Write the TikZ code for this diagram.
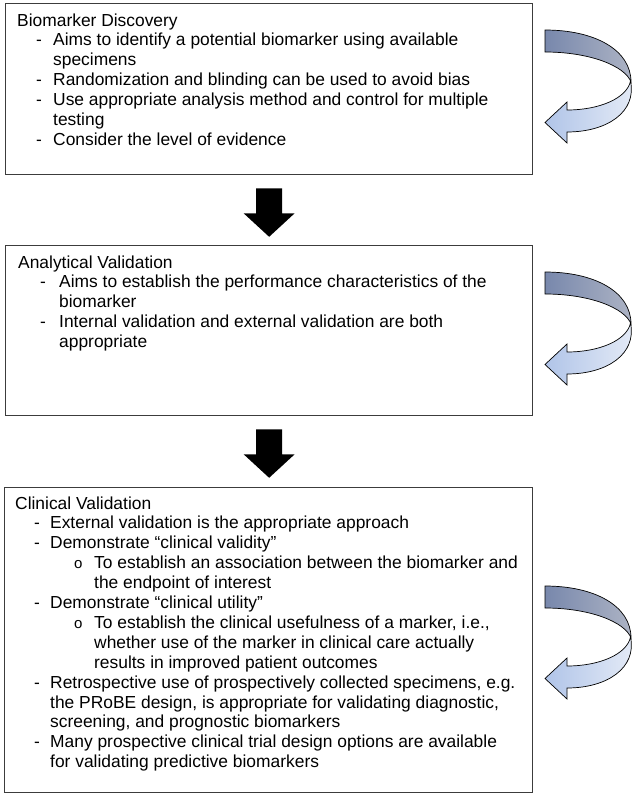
\documentclass[tikz,border=0pt]{standalone}
\usepackage{fontspec}
\setmainfont{Liberation Sans}
\definecolor{backL}{RGB}{120,136,172}
\definecolor{backR}{RGB}{172,179,196}
\definecolor{frontL}{RGB}{176,196,232}
\definecolor{frontR}{RGB}{230,236,247}
\definecolor{boxline}{RGB}{60,60,60}
\newcommand{\bdash}[2]{\hspace*{#1pt}\makebox[#2pt][l]{-}}
\newcommand{\bcirc}[2]{\hspace*{#1pt}\makebox[#2pt][l]{\fontsize{15}{15}\selectfont o}}
\tikzset{
  box/.style={draw=boxline, line width=1.3pt, anchor=north west, inner sep=0pt},
  txt/.style={anchor=base west, inner sep=0pt, font=\fontsize{17.4}{19.9}\selectfont},
  blockarrow/.pic={
    \fill[black] (-13,13) -- (13,13) -- (13,38) -- (25.5,38) -- (0,61.5)
      -- (-25.5,38) -- (-13,38) -- cycle;
  },
  curvarrow/.pic={
    \shade[left color=backL, right color=backR, draw=black, line width=0.7pt]
      (0,0) .. controls (50,0) and (86,20) .. (86,52)
      .. controls (80,36) and (45,22) .. (0,22) -- cycle;
    \shade[left color=frontL, right color=frontR, draw=black, line width=0.7pt]
      (22,80) .. controls (55,80) and (82,68) .. (85.5,51)
      .. controls (92,82) and (62,102) .. (22,102)
      -- (22,113) -- (0,92.5) -- (22,72) -- cycle;
  }
}
\begin{document}
\begin{tikzpicture}[x=1pt,y=-1pt]
\useasboundingbox (0,0) rectangle (634,795);
\fill[white] (0,0) rectangle (634,795);

\node[box, minimum width=527pt, minimum height=171pt] (b1) at (5,3) {};
\node[box, minimum width=527pt, minimum height=170pt] (b2) at (5,245) {};
\node[box, minimum width=528pt, minimum height=305pt] (b3) at (4,487) {};

\node[txt] (t1) at (17,26) {\begin{minipage}[t]{600pt}
Biomarker Discovery\\
\bdash{19}{17}Aims to identify a potential biomarker using available\\
\hspace*{36pt}specimens\\
\bdash{19}{17}Randomization and blinding can be used to avoid bias\\
\bdash{19}{17}Use appropriate analysis method and control for multiple\\
\hspace*{36pt}testing\\
\bdash{19}{17}Consider the level of evidence
\end{minipage}};

\node[txt] (t2) at (18,268) {\begin{minipage}[t]{600pt}
Analytical Validation\\
\bdash{22}{19}Aims to establish the performance characteristics of the\\
\hspace*{41pt}biomarker\\
\bdash{22}{19}Internal validation and external validation are both\\
\hspace*{41pt}appropriate
\end{minipage}};

\node[txt] (t3) at (15,509) {\begin{minipage}[t]{600pt}
Clinical Validation\\
\bdash{19}{16}External validation is the appropriate approach\\
\bdash{19}{16}Demonstrate “clinical validity”\\
\bcirc{59}{20}To establish an association between the biomarker and\\
\hspace*{79pt}the endpoint of interest\\
\bdash{19}{16}Demonstrate “clinical utility”\\
\bcirc{59}{20}To establish the clinical usefulness of a marker, i.e.,\\
\hspace*{79pt}whether use of the marker in clinical care actually\\
\hspace*{79pt}results in improved patient outcomes\\
\bdash{19}{16}Retrospective use of prospectively collected specimens, e.g.\\
\hspace*{35pt}the PRoBE design, is appropriate for validating diagnostic,\\
\hspace*{35pt}screening, and prognostic biomarkers\\
\bdash{19}{16}Many prospective clinical trial design options are available\\
\hspace*{35pt}for validating predictive biomarkers
\end{minipage}};

\pic at (b1.south) {blockarrow};
\pic at (b2.south) {blockarrow};

\pic at (545,30) {curvarrow};
\pic at (545,272) {curvarrow};
\pic at (545,586) {curvarrow};
\end{tikzpicture}
\end{document}
